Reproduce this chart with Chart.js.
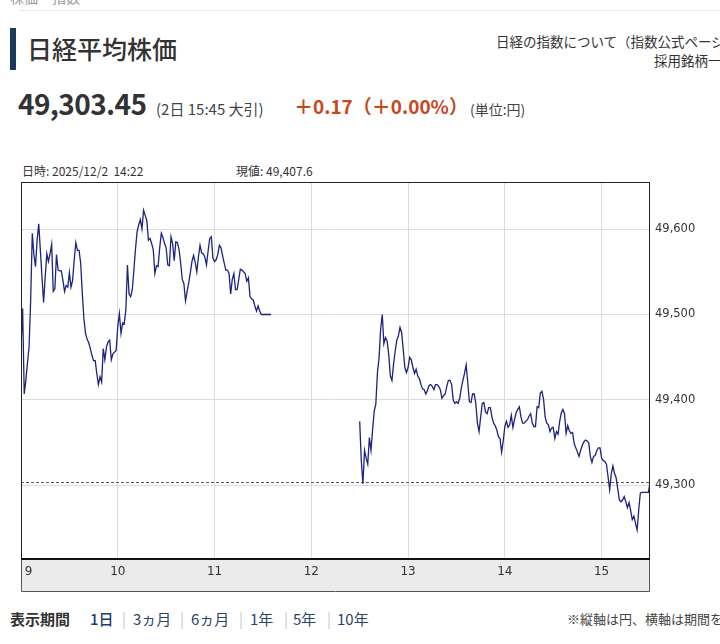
<!DOCTYPE html>
<html lang="ja">
<head>
<meta charset="utf-8">
<title>日経平均株価</title>
<script src="https://cdn.jsdelivr.net/npm/chart.js@4.4.1/dist/chart.umd.min.js"></script>
<style>
  html, body { margin: 0; padding: 0; background: #fff; }
  body { width: 720px; height: 644px; position: relative; overflow: hidden;
         font-family: "Noto Sans CJK JP", "Noto Sans", sans-serif; color: #333; }
  .abs { position: absolute; white-space: nowrap; line-height: 1; }
  #topline { position: absolute; left: 20px; right: 0; top: 10px; border-top: 1px dotted #d8d8d8; }
  #bar { position: absolute; left: 10px; top: 28px; width: 6px; height: 42px; background: #1b3a5c; }
  #chartWrap { position: absolute; left: 0; top: 170px; width: 720px; height: 430px; }
  .nav { color: #2c4467; font-size: 15px; top: 611px; }
  .sep { color: #c8c8c8; font-size: 15px; top: 611px; }
</style>
</head>
<body>
<div class="abs" style="left:10px;top:-10px;font-size:14px;color:#999;">株価・指数</div>
<div id="topline"></div>
<div id="bar"></div>
<div class="abs" style="left:27px;top:36px;font-size:25px;font-weight:500;">日経平均株価</div>
<div class="abs" style="left:496px;top:35px;font-size:13.5px;">日経の指数について（指数公式ページ）</div>
<div class="abs" style="left:654px;top:54px;font-size:13.5px;">採用銘柄一覧</div>

<div class="abs" style="left:18px;top:89px;font-size:28px;font-weight:700;letter-spacing:-0.6px;">49,303.45</div>
<div class="abs" style="left:156px;top:101px;font-size:15px;color:#444;">(2日 15:45 大引)</div>
<div class="abs" style="left:294px;top:96px;font-size:19px;font-weight:700;color:#c8461e;">＋0.17（＋0.00%）</div>
<div class="abs" style="left:470px;top:102px;font-size:14px;color:#444;">(単位:円)</div>

<div class="abs" style="left:22px;top:165px;font-size:12px;">日時: 2025/12/2&nbsp;&nbsp;14:22</div>
<div class="abs" style="left:236px;top:165px;font-size:12px;">現値: 49,407.6</div>

<div id="chartWrap"><canvas id="nikkeiChart" width="720" height="430"></canvas></div>

<div class="abs" style="left:10px;top:611px;font-size:15px;font-weight:700;">表示期間</div>
<div class="abs" style="left:90px;top:611px;font-size:15px;font-weight:500;color:#1f3d6b;">1日</div>
<div class="abs sep" style="left:122px;">|</div>
<div class="abs nav" style="left:133px;">3ヵ月</div>
<div class="abs sep" style="left:180px;">|</div>
<div class="abs nav" style="left:191px;">6ヵ月</div>
<div class="abs sep" style="left:239px;">|</div>
<div class="abs nav" style="left:250px;">1年</div>
<div class="abs sep" style="left:284px;">|</div>
<div class="abs nav" style="left:293px;">5年</div>
<div class="abs sep" style="left:327px;">|</div>
<div class="abs nav" style="left:337px;">10年</div>
<div class="abs" style="left:567px;top:612px;font-size:13px;color:#444;">※縦軸は円、横軸は期間を表します</div>

<script>
// minutes after 9:00 where each session starts, one value per minute
const amStart = 0;     // 9:00
const pmStart = 210;   // 12:30

// 前場 9:00 - 11:35
const amValues = [
  49462, 49507, 49407, 49423, 49443, 49462, 49517, 49595, 49570, 49556,
  49587, 49606, 49575, 49544, 49514, 49544, 49571, 49562, 49571, 49582,
  49527, 49530, 49570, 49552, 49551, 49551, 49540, 49527, 49534, 49532,
  49549, 49532, 49540, 49564, 49584, 49575, 49575, 49560, 49525, 49495,
  49478, 49471, 49467, 49460, 49452, 49446, 49446, 49431, 49418, 49427,
  49421, 49460, 49447, 49462, 49468, 49470, 49447, 49454, 49456, 49458,
  49486, 49501, 49478, 49490, 49489, 49505, 49558, 49524, 49521, 49529,
  49552, 49577, 49597, 49605, 49611, 49600, 49622, 49616, 49610, 49587,
  49589, 49583, 49576, 49548, 49557, 49556, 49578, 49595, 49590, 49583,
  49578, 49558, 49557, 49591, 49583, 49563, 49585, 49584, 49576, 49560,
  49541, 49536, 49516, 49527, 49537, 49549, 49562, 49569, 49561, 49550,
  49567, 49581, 49572, 49571, 49567, 49558, 49574, 49589, 49591, 49566,
  49562, 49564, 49570, 49581, 49578, 49569, 49560, 49552, 49552, 49548,
  49524, 49541, 49548, 49529, 49529, 49541, 49553, 49552, 49550, 49548,
  49539, 49543, 49521, 49518, 49517, 49510, 49504, 49510, 49504, 49500,
  49500, 49500, 49500, 49500, 49500, 49500
];

// 後場 12:30 - 15:30
const pmValues = [
  49375, 49329, 49302, 49341, 49332, 49325, 49356, 49341, 49365, 49387,
  49395, 49432, 49449, 49483, 49500, 49466, 49473, 49469, 49453, 49428,
  49423, 49442, 49457, 49470, 49475, 49485, 49479, 49459, 49438, 49432,
  49438, 49450, 49447, 49438, 49431, 49436, 49428, 49425, 49418, 49413,
  49412, 49407, 49411, 49417, 49418, 49416, 49412, 49418, 49418, 49416,
  49412, 49402, 49405, 49407, 49416, 49423, 49423, 49418, 49400, 49396,
  49398, 49396, 49402, 49414, 49423, 49431, 49441, 49421, 49398, 49397,
  49407, 49407, 49396, 49373, 49363, 49380, 49396, 49397, 49386, 49384,
  49391, 49391, 49380, 49373, 49370, 49365, 49357, 49355, 49339, 49352,
  49369, 49375, 49368, 49371, 49382, 49368, 49377, 49385, 49389, 49392,
  49380, 49373, 49373, 49375, 49377, 49381, 49384, 49373, 49369, 49369,
  49392, 49391, 49408, 49410, 49401, 49380, 49373, 49371, 49363, 49367,
  49368, 49355, 49363, 49360, 49375, 49385, 49389, 49384, 49361, 49370,
  49364, 49361, 49362, 49349, 49344, 49339, 49334, 49341, 49347, 49351,
  49353, 49352, 49350, 49334, 49327, 49334, 49335, 49341, 49344, 49344,
  49332, 49329, 49328, 49325, 49310, 49295, 49314, 49323, 49314, 49309,
  49296, 49283, 49281, 49283, 49287, 49281, 49274, 49280, 49271, 49260,
  49264, 49256, 49248, 49271, 49291, 49292, 49292, 49292, 49292, 49292,
  49303
];

const currentValue = 49303.45;

// axis ticks
const xTickMinutes = [0, 60, 120, 180, 240, 300, 360];
const xTickLabels = ['9', '10', '11', '12', '13', '14', '15'];
const yTicks = [49300, 49400, 49500, 49600];
const xMin = 0, xMax = 390;
const yMin = 49214, yMax = 49655;

// grey time band under the plot + the black frame
const framePlugin = {
    id: 'frame',
    beforeDraw(chart) {
        const { ctx, chartArea } = chart;
        ctx.save();
        ctx.fillStyle = '#ebebeb';
        ctx.fillRect(chartArea.left, chartArea.bottom, chartArea.right - chartArea.left, 32);
        ctx.restore();
    },
    afterDraw(chart) {
        const { ctx, chartArea } = chart;
        const l = chartArea.left, r = chartArea.right, t = chartArea.top, b = chartArea.bottom;
        ctx.save();
        ctx.strokeStyle = '#222';
        ctx.lineWidth = 1;
        ctx.strokeRect(l + 0.5, t + 0.5, r - l - 1, b - t);
        // band sides and bottom
        ctx.strokeStyle = '#555';
        ctx.beginPath();
        ctx.moveTo(l + 0.5, b); ctx.lineTo(l + 0.5, b + 32.5);
        ctx.lineTo(r - 0.5, b + 32.5); ctx.lineTo(r - 0.5, b);
        ctx.stroke();
        // thicker line between plot and band
        ctx.strokeStyle = '#111';
        ctx.lineWidth = 2;
        ctx.beginPath();
        ctx.moveTo(l, b); ctx.lineTo(r, b);
        ctx.stroke();
        ctx.restore();
    }
};

function renderChart() {
    const ctx = document.getElementById('nikkeiChart').getContext('2d');
    new Chart(ctx, {
        type: 'line',
        data: {
            datasets: [{
                label: '前場',
                data: amValues.map((v, i) => ({ x: amStart + i, y: v })),
                borderColor: '#1b237f',
                borderWidth: 1.3,
                pointRadius: 0,
                tension: 0
            }, {
                label: '後場',
                data: pmValues.map((v, i) => ({ x: pmStart + i, y: v })),
                borderColor: '#1b237f',
                borderWidth: 1.3,
                pointRadius: 0,
                tension: 0
            }, {
                label: '現値',
                data: [{ x: xMin, y: currentValue }, { x: xMax, y: currentValue }],
                borderColor: '#555',
                borderWidth: 1,
                borderDash: [3, 2],
                pointRadius: 0
            }]
        },
        options: {
            responsive: false,
            animation: false,
            events: [],
            layout: { padding: { left: 21, top: 12, right: 0, bottom: 9 } },
            plugins: {
                legend: { display: false },
                tooltip: { enabled: false }
            },
            scales: {
                x: {
                    type: 'linear',
                    position: 'bottom',
                    min: xMin,
                    max: xMax,
                    afterBuildTicks: s => { s.ticks = xTickMinutes.map(v => ({ value: v })); },
                    afterFit: s => { s.height = 32; },
                    ticks: {
                        autoSkip: false,
                        maxRotation: 0,
                        padding: 6,
                        color: '#333',
                        font: { family: 'DejaVu Sans', size: 12 },
                        callback: (v, i) => (i === 0 ? '    ' : '') + xTickLabels[i]
                    },
                    grid: { color: '#dcdcdc', drawTicks: false },
                    border: { display: false }
                },
                y: {
                    type: 'linear',
                    position: 'right',
                    min: yMin,
                    max: yMax,
                    afterBuildTicks: s => { s.ticks = yTicks.map(v => ({ value: v })); },
                    afterFit: s => { s.width = 70; },
                    ticks: {
                        padding: 5,
                        color: '#333',
                        font: { family: 'DejaVu Sans', size: 11.5 },
                        callback: v => v.toLocaleString('en-US')
                    },
                    grid: { color: '#dcdcdc', drawTicks: false },
                    border: { display: false }
                }
            }
        },
        plugins: [framePlugin]
    });
}

renderChart();
</script>
</body>
</html>
